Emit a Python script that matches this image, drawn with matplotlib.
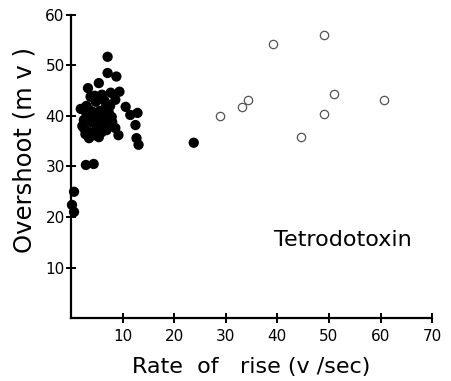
import matplotlib
matplotlib.use("Agg")
import matplotlib.pyplot as plt

# Control (filled) points: rate of rise (v/sec), overshoot (mV)
ctrl_x = [7.1, 7.1, 8.8, 5.4, 3.3, 3.8, 9.4, 7.7, 6.0, 8.6, 4.8, 10.6, 1.9, 3.5,
          6.7, 11.5, 12.9, 5.4, 7.9, 2.5, 4.0, 6.7, 12.5, 8.6, 2.5, 4.8, 9.2,
          3.5, 5.4, 12.7, 13.1, 2.9, 4.4, 0.6, 0.2, 0.6, 6.2, 7.3, 2.2, 3.2,
          5.8, 7.2, 4.1, 6.5, 7.6, 3.0, 23.8, 4.5, 5.0, 6.0, 3.0, 4.2, 5.6,
          6.9, 8.0, 2.8, 4.6]
ctrl_y = [51.7, 48.5, 47.8, 46.5, 45.5, 43.8, 44.8, 44.6, 44.2, 43.2, 42.8, 41.8,
          41.4, 41.2, 41.6, 40.2, 40.6, 40.2, 39.8, 39.2, 38.8, 38.6, 38.2, 37.6,
          37.6, 37.2, 36.2, 35.6, 35.8, 35.6, 34.3, 30.3, 30.5, 25.0, 22.4, 21.0,
          39.8, 40.8, 38.0, 37.0, 37.6, 42.2, 39.6, 43.0, 42.0, 42.0, 34.7, 36.2,
          38.4, 36.8, 40.4, 40.8, 41.0, 37.2, 38.8, 36.4, 44.0]

# Tetrodotoxin (open) points
ttx_x = [39.2, 49.0, 34.4, 33.1, 28.8, 51.0, 49.0, 60.6, 44.6]
ttx_y = [54.3, 56.0, 43.2, 41.8, 40.0, 44.4, 40.4, 43.2, 35.8]

x_ticks = [10, 20, 30, 40, 50, 60, 70]
y_ticks = [10, 20, 30, 40, 50, 60]

plt.rcParams['font.family'] = ['DejaVu Sans']

fig = plt.figure(figsize=(4.52, 3.81), dpi=100)
ax = fig.add_axes([0.157, 0.165, 0.799, 0.796])

ax.scatter(ctrl_x, ctrl_y, s=55, c='black', edgecolors='none', zorder=3, clip_on=False)
ax.scatter(ttx_x, ttx_y, s=36, facecolors='white', edgecolors='#555555',
           linewidths=0.9, zorder=3)

ax.set_xlim(0, 70)
ax.set_ylim(0, 60)
ax.set_xticks(x_ticks)
ax.set_yticks(y_ticks)
ax.spines['top'].set_visible(False)
ax.spines['right'].set_visible(False)
for s in ['left', 'bottom']:
    ax.spines[s].set_linewidth(1.6)
ax.tick_params(axis='both', direction='inout', length=7, width=1.4,
               labelsize=11, colors='black')
ax.tick_params(axis='x', pad=4)
ax.tick_params(axis='y', pad=1)

ax.set_xlabel('Rate  of   rise (v /sec)', fontsize=16, labelpad=10)
ax.set_ylabel('Overshoot (m v )', fontsize=17.5)
ax.yaxis.set_label_coords(-0.095, 0.555)

ax.text(0.753, 0.257, 'Tetrodotoxin', transform=ax.transAxes, fontsize=16,
        ha='center', va='center')

fig.savefig('out.png', dpi=100)
